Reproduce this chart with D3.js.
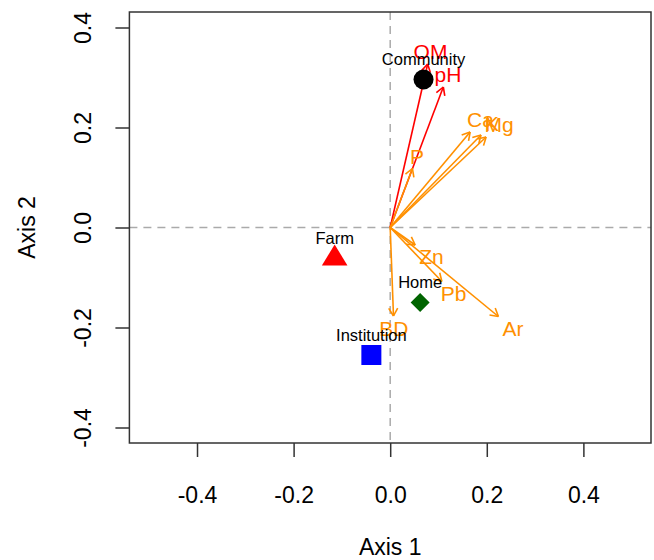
<!DOCTYPE html>
<html><head><meta charset="utf-8">
<script src="https://cdn.jsdelivr.net/npm/d3@7"></script>
<style>body{margin:0;background:#fff;} text{font-family:"Liberation Sans",Arial,sans-serif;}</style>
</head><body><svg id="c" width="654" height="560"></svg>
<script>
// Site scores
const siteNames = ["Community", "Farm", "Home", "Institution"];
const siteX = [0.069, -0.115, 0.062, -0.039];
const siteY = [0.296, -0.062, -0.150, -0.255];
const siteShapes = ["circle", "triangle", "diamond", "square"];
const siteColors = ["#000000", "#FF0000", "#006400", "#0000FF"];

// Environmental vectors
const varNames = ["OM", "pH", "Ca", "K", "Mg", "P", "Zn", "Pb", "Ar", "BD"];
const varX = [0.0776, 0.110, 0.1655, 0.188, 0.1986, 0.046, 0.0517, 0.107, 0.224, 0.0068];
const varY = [0.327, 0.281, 0.191, 0.185, 0.181, 0.118, -0.035, -0.108, -0.178, -0.177];
const varColors = ["#FF0000", "#FF0000", "#FF9000", "#FF9000", "#FF9000", "#FF9000", "#FF9000", "#FF9000", "#FF9000", "#FF9000"];

const xTicks = [-0.4, -0.2, 0.0, 0.2, 0.4];
const yTicks = [-0.4, -0.2, 0.0, 0.2, 0.4];
const xTitle = "Axis 1";
const yTitle = "Axis 2";

const svg = d3.select("#c");
const L = 129.4, R = 651, T = 12, B = 443;
const x = d3.scaleLinear().domain([-0.54, 0.54]).range([L, R]);
const y = d3.scaleLinear().domain([-0.431, 0.431]).range([B, T]);
const fmt = d => d.toFixed(1);

// reference lines
svg.append("line").attr("x1", L).attr("x2", R).attr("y1", y(0)).attr("y2", y(0))
  .attr("stroke", "#aaaaaa").attr("stroke-width", 1.5).attr("stroke-dasharray", "8,6");
svg.append("line").attr("x1", x(0)).attr("x2", x(0)).attr("y1", T).attr("y2", B)
  .attr("stroke", "#aaaaaa").attr("stroke-width", 1.5).attr("stroke-dasharray", "8,6");

// axes
const gx = svg.append("g").attr("transform", `translate(0,${B})`)
  .call(d3.axisBottom(x).tickValues(xTicks).tickFormat(fmt).tickSize(14).tickSizeOuter(0));
gx.select(".domain").remove();
gx.selectAll(".tick line").attr("stroke", "#333").attr("stroke-width", 1.5);
gx.selectAll(".tick text").attr("y", 52).attr("dy", "0.35em").attr("font-size", 23)
  .attr("fill", "#000").style("font-family", "'Liberation Sans', Arial, sans-serif");

const gy = svg.append("g").attr("transform", `translate(${L},0)`)
  .call(d3.axisLeft(y).tickValues(yTicks).tickFormat(fmt).tickSize(14).tickSizeOuter(0));
gy.select(".domain").remove();
gy.selectAll(".tick line").attr("stroke", "#333").attr("stroke-width", 1.5);
gy.selectAll(".tick text").attr("x", 0).attr("dy", "0.35em").attr("text-anchor", "middle")
  .attr("transform", "translate(-46,0) rotate(-90)").attr("font-size", 23)
  .attr("fill", "#000").style("font-family", "'Liberation Sans', Arial, sans-serif");

// box
svg.append("rect").attr("x", L).attr("y", T).attr("width", R - L).attr("height", B - T)
  .attr("fill", "none").attr("stroke", "#333").attr("stroke-width", 1.5);

// titles
svg.append("text").attr("x", (L + R) / 2).attr("y", 547).attr("dy", "0.35em")
  .attr("text-anchor", "middle").attr("font-size", 23).text(xTitle);
svg.append("text").attr("transform", `translate(27,${(T + B) / 2}) rotate(-90)`).attr("dy", "0.35em")
  .attr("text-anchor", "middle").attr("font-size", 23).text(yTitle);

// arrows
const ox = x(0), oy = y(0);
const ag = svg.append("g");
const arrowFont = 21;
varNames.forEach((n, i) => {
  const tx = x(varX[i]), ty = y(varY[i]);
  const col = varColors[i];
  ag.append("line").attr("x1", ox).attr("y1", oy).attr("x2", tx).attr("y2", ty)
    .attr("stroke", col).attr("stroke-width", 1.6);
  const ang = Math.atan2(ty - oy, tx - ox);
  const hl = 9, ha = Math.PI / 6;
  [ang + Math.PI - ha, ang + Math.PI + ha].forEach(a => {
    ag.append("line").attr("x1", tx).attr("y1", ty)
      .attr("x2", tx + hl * Math.cos(a)).attr("y2", ty + hl * Math.sin(a))
      .attr("stroke", col).attr("stroke-width", 1.6);
  });
});
// arrow labels (ordiArrowTextXY-like placement)
varNames.forEach((n, i) => {
  const tx = x(varX[i]), ty = y(varY[i]);
  const t = ag.append("text").attr("font-size", arrowFont).attr("fill", varColors[i])
    .attr("text-anchor", "middle").attr("dy", "0.35em").text(n);
  const w = t.node().getComputedTextLength();
  const h = 0.78 * arrowFont;
  const dx = tx - ox, dy = ty - oy;
  let offx = Math.sign(dx) * (w / 2 + h / 4), offy = 0.75 * h * Math.sign(dy);
  const b = dy / dx;
  const move = offy / b;
  if (isFinite(move) && Math.abs(move) <= Math.abs(offx)) offx = move;
  else offy = b * offx;
  t.attr("x", tx + offx).attr("y", ty + offy);
});

// sites
const sg = svg.append("g");
siteNames.forEach((n, i) => {
  const cx = x(siteX[i]), cy = y(siteY[i]);
  const col = siteColors[i];
  const s = siteShapes[i];
  if (s === "circle") {
    sg.append("circle").attr("cx", cx).attr("cy", cy).attr("r", 10).attr("fill", col);
  } else if (s === "square") {
    sg.append("rect").attr("x", cx - 10).attr("y", cy - 10).attr("width", 20).attr("height", 20).attr("fill", col);
  } else if (s === "diamond") {
    const r = 9.5;
    sg.append("path").attr("d", `M${cx},${cy - r}L${cx + r},${cy}L${cx},${cy + r}L${cx - r},${cy}Z`).attr("fill", col);
  } else if (s === "triangle") {
    const hs = 12.8, ht = 21;
    sg.append("path").attr("d", `M${cx},${cy - ht * 2 / 3}L${cx + hs},${cy + ht / 3}L${cx - hs},${cy + ht / 3}Z`).attr("fill", col);
  }
  sg.append("text").attr("x", cx).attr("y", cy - 20).attr("dy", "0.35em")
    .attr("text-anchor", "middle").attr("font-size", 16.5).attr("fill", "#000").text(n);
});
</script></body></html>
